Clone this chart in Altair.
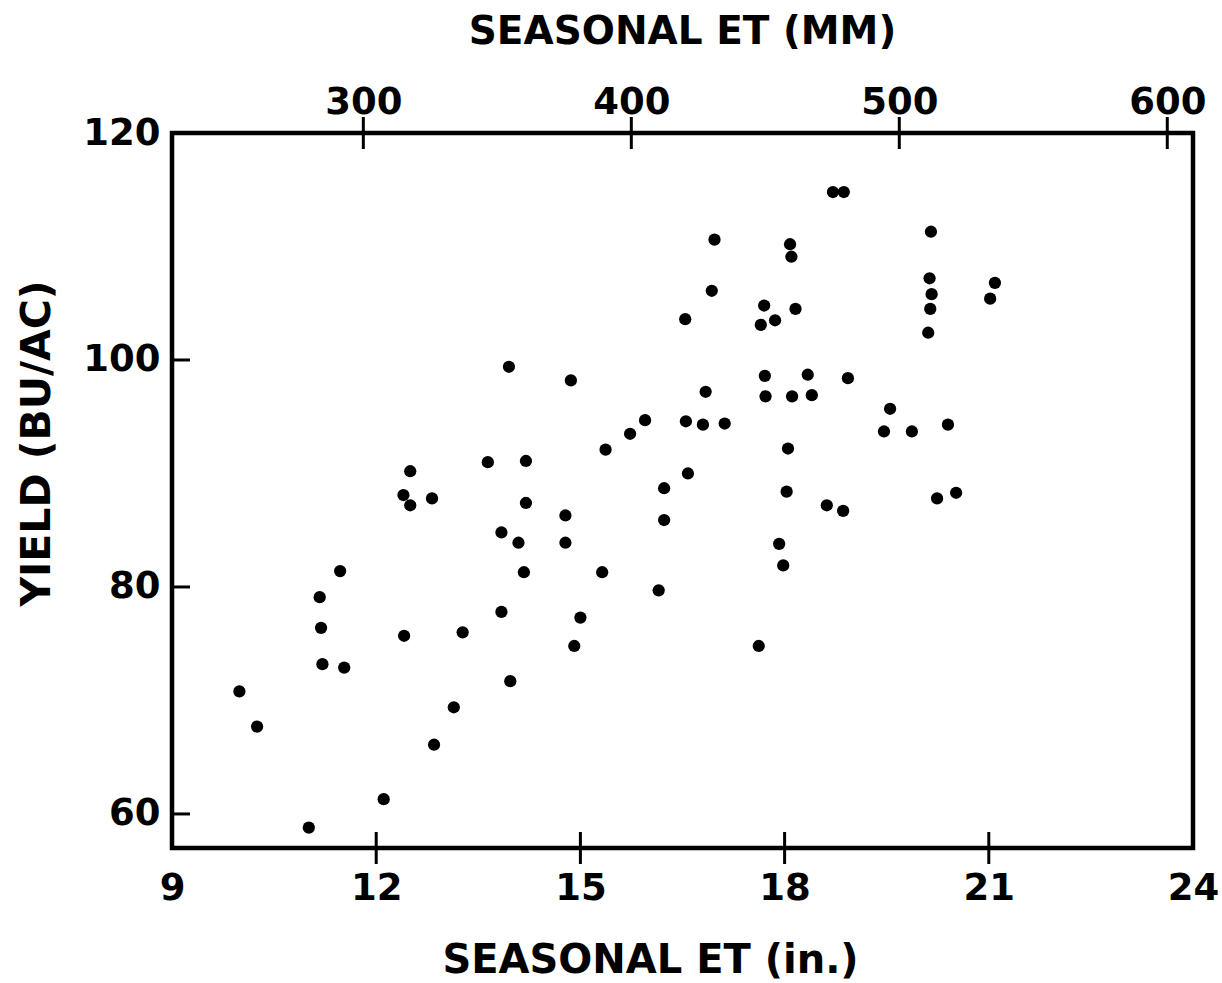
import altair as alt
import pandas as pd

# Seasonal ET (inches) and yield (bu/ac)
ET_IN = [9.99, 10.25, 11.01, 11.17, 11.19, 11.21, 11.47, 11.53, 12.11, 12.41,
         12.40, 12.50, 12.50, 12.82, 12.85, 13.14, 13.27, 13.64, 13.84, 13.84,
         13.95, 13.97, 14.09, 14.20, 14.17, 14.20, 14.78, 14.78, 14.86, 14.91,
         15.00, 15.32, 15.37, 15.73, 15.95, 16.15, 16.23, 16.23, 16.54, 16.55,
         16.58, 16.80, 16.84, 16.93, 16.97, 17.12, 17.62, 17.65, 17.70, 17.71,
         17.72, 17.86, 17.92, 17.98, 18.05, 18.03, 18.08, 18.10, 18.11, 18.16,
         18.34, 18.40, 18.62, 18.71, 18.87, 18.86, 18.93, 19.46, 19.55, 19.87,
         20.40, 20.11, 20.14, 20.13, 20.16, 20.15, 20.24, 20.52, 21.02, 21.09]
YIELD = [70.8, 67.7, 58.8, 79.1, 76.4, 73.2, 81.4, 72.9, 61.3, 75.7,
         88.1, 90.2, 87.2, 87.8, 66.1, 69.4, 76.0, 91.0, 77.8, 84.8,
         99.4, 71.7, 83.9, 91.1, 81.3, 87.4, 86.3, 83.9, 98.2, 74.8,
         77.3, 81.3, 92.1, 93.5, 94.7, 79.7, 88.7, 85.9, 103.6, 94.6,
         90.0, 94.3, 97.2, 106.1, 110.6, 94.4, 74.8, 103.1, 104.8, 98.6,
         96.8, 103.5, 83.8, 81.9, 92.2, 88.4, 110.2, 109.1, 96.8, 104.5,
         98.7, 96.9, 87.2, 114.8, 114.8, 86.7, 98.4, 93.7, 95.7, 93.7,
         94.3, 102.4, 104.5, 107.2, 105.8, 111.3, 87.8, 88.3, 105.4, 106.8]

X_DOMAIN = [9, 24]
Y_DOMAIN = [57, 120]
X_LABELS_IN = [9, 12, 15, 18, 21, 24]
X_TICKMARKS_IN = [12, 15, 18, 21]
Y_LABELS = [60, 80, 100, 120]
Y_TICKMARKS = [60, 80, 100]
MM_TICKS = [300, 400, 500, 600]
MM_PER_IN = 25.4

FONT = "DejaVu Sans"

xscale = alt.Scale(domain=X_DOMAIN, nice=False, zero=False)
yscale = alt.Scale(domain=Y_DOMAIN, nice=False, zero=False)

common_axis = dict(
    grid=False, domain=False, ticks=False, labelFlush=False, labelOverlap=False,
    labelBound=False, labelFont=FONT, labelFontWeight="bold", labelFontSize=37,
    labelColor="black", titleFont=FONT, titleFontWeight="bold", titleColor="black",
)

pts = pd.DataFrame({"et": ET_IN, "yld": YIELD})

points = alt.Chart(pts).mark_circle(size=150, color="black", opacity=1).encode(
    x=alt.X("et:Q", scale=xscale, axis=alt.Axis(
        orient="bottom", values=X_LABELS_IN, format="d", title="SEASONAL ET (in.)",
        labelPadding=22, titleFontSize=40, titleX=478, titleY=124,
        titleBaseline="alphabetic", titleAlign="center", **common_axis)),
    y=alt.Y("yld:Q", scale=yscale, axis=alt.Axis(
        orient="left", values=Y_LABELS, format="d", title="YIELD (BU/AC)", labelPadding=12,
        titleFontSize=41, titleX=-123, titleY=310, titleBaseline="alphabetic",
        titleAlign="center", titleAngle=270, **common_axis)),
)

xt = pd.DataFrame({"x": X_TICKMARKS_IN, "y": [Y_DOMAIN[0]] * len(X_TICKMARKS_IN)})
bottom_ticks = alt.Chart(xt).mark_tick(orient="vertical", size=32, thickness=3, color="black", opacity=1).encode(
    x=alt.X("x:Q", scale=xscale, axis=None),
    y=alt.Y("y:Q", scale=yscale, axis=None),
)

yt = pd.DataFrame({"x": [X_DOMAIN[0]] * len(Y_TICKMARKS), "y": Y_TICKMARKS})
left_ticks = alt.Chart(yt).mark_tick(orient="horizontal", size=18, thickness=3, xOffset=9, color="black", opacity=1).encode(
    x=alt.X("x:Q", scale=xscale, axis=None),
    y=alt.Y("y:Q", scale=yscale, axis=None),
)

mt = pd.DataFrame({"mm": MM_TICKS, "y": [Y_DOMAIN[1]] * len(MM_TICKS)})
top_ticks = alt.Chart(mt).transform_calculate(
    inch=f"datum.mm / {MM_PER_IN}"
).mark_tick(orient="vertical", size=32, thickness=3, color="black", opacity=1).encode(
    x=alt.X("inch:Q", scale=xscale, axis=alt.Axis(
        orient="top", values=[m / MM_PER_IN for m in MM_TICKS],
        labelExpr=f"format(datum.value * {MM_PER_IN}, '.0f')",
        title="SEASONAL ET (MM)", labelPadding=12, titleFontSize=39,
        titleX=510, titleY=-90, titleBaseline="alphabetic", titleAlign="center",
        **common_axis)),
    y=alt.Y("y:Q", scale=yscale, axis=None),
)

chart = alt.layer(points, bottom_ticks, left_ticks, top_ticks).resolve_axis(
    x="independent", y="independent"
).properties(
    width=1021, height=715,
    autosize=alt.AutoSizeParams(type="none"),
    padding={"left": 172, "top": 133, "right": 29, "bottom": 135},
    background="white",
).configure_view(stroke="black", strokeWidth=4.5)

chart.save("out.html", embed_options={"renderer": "svg", "actions": False})
